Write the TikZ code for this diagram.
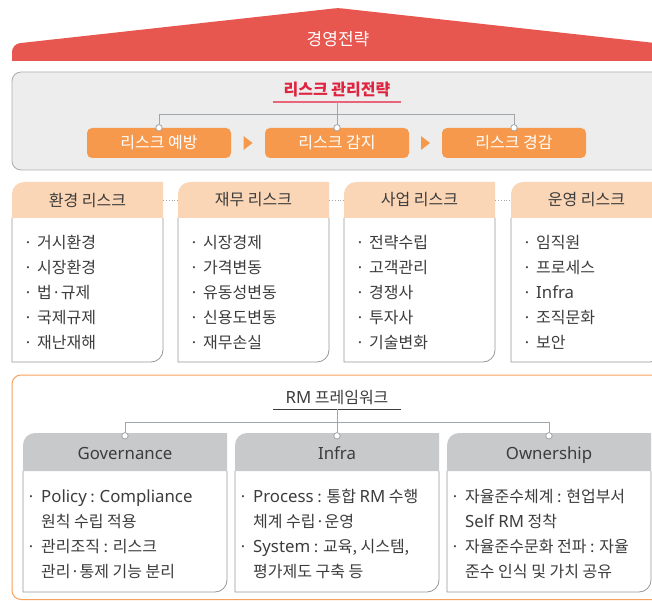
\documentclass[tikz,border=0pt]{standalone}
\usepackage{fontspec}
\setmainfont{Noto Sans CJK KR}
\newfontfamily\latinfont[Scale=1.05]{Noto Sans}
\newcommand{\en}[1]{{\latinfont #1}}
\usepackage{xcolor}
\definecolor{textcolor}{RGB}{60,60,60}
\definecolor{roofcolor}{RGB}{232,86,80}
\definecolor{panelcolor}{RGB}{237,237,237}
\definecolor{panelrule}{RGB}{168,172,175}
\definecolor{stepcolor}{RGB}{246,153,76}
\definecolor{stratcolor}{RGB}{222,36,62}
\definecolor{stratrule}{RGB}{232,100,120}
\definecolor{peachcolor}{RGB}{251,214,182}
\definecolor{boxrule}{RGB}{150,150,150}
\definecolor{linkrule}{RGB}{160,166,170}
\definecolor{headgray}{RGB}{199,201,203}
\definecolor{framecolor}{RGB}{246,160,90}
\usepackage{tikz}
\usetikzlibrary{calc}

\begin{document}
\begin{tikzpicture}[x=1pt, y=-1pt,
  every node/.style={text=textcolor, inner sep=0pt, font=\fontsize{16}{19}\selectfont},
  stepbox/.style={fill=stepcolor, rounded corners=5pt, minimum width=144pt, minimum height=30pt, text=white},
  riskhead/.style={minimum width=151pt, minimum height=36pt},
  rmhead/.style={minimum width=204pt, minimum height=38pt, text height=12pt, text depth=4pt},
  item/.style={anchor=west, text height=12pt, text depth=0pt},
  bul/.style={text height=12pt, text depth=0pt},
  link/.style={draw=linkrule, line width=1pt},
  knot/.style={draw=linkrule, fill=white, line width=0.8pt},
  bodyrule/.style={draw=boxrule, line width=0.8pt}]
\useasboundingbox (0,0) rectangle (652,601);
\begin{scope}
\clip (0,0) rectangle (652,601);

% roof
\fill[roofcolor] (12,61) [rounded corners=8pt] -- (12,44) [rounded corners=3pt] -- (338,8) [sharp corners] -- (664,44) -- (664,61) -- cycle;
\node[text=white, font=\fontsize{17}{20}\selectfont] (mgmt) at (338,39) {경영전략};

% risk management strategy
\draw[draw=panelrule, fill=panelcolor, rounded corners=9pt, line width=0.8pt] (12,72) rectangle (680,170);
\node[text=stratcolor, font=\bfseries\fontsize{16}{19}\selectfont, minimum width=128pt, minimum height=24pt] (strat) at (337,90) {리스크 관리전략};
\draw[stratrule, line width=1.6pt] (strat.south west) -- (strat.south east);
\node[stepbox] (prevent) at (159,143) {리스크 예방};
\node[stepbox] (detect) at (337,143) {리스크 감지};
\node[stepbox] (reduce) at (514,143) {리스크 경감};
\draw[link] (strat.south) -- (detect.north);
\draw[link] (prevent.north) |- ($(strat.south)+(0,12)$) -| (reduce.north);
\foreach \n in {prevent,detect,reduce}
  \draw[knot] (\n.north) circle (3.2pt);
\foreach \a/\b in {prevent/detect,detect/reduce}
  \fill[stepcolor] ($(\a.east)!0.5!(\b.west)+(-4.5,-7)$) -- ++(9,7) -- ++(-9,7) -- cycle;

% risk boxes
\foreach \x/\nm/\hd/\items in {12/env/환경 리스크/{거시환경,시장환경,법·규제,국제규제,재난재해},
    178/fin/재무 리스크/{시장경제,가격변동,유동성변동,신용도변동,재무손실},
    344/biz/사업 리스크/{전략수립,고객관리,경쟁사,투자사,기술변화},
    511/ops/운영 리스크/{임직원,프로세스,\en{Infra},조직문화,보안}} {
  \fill[peachcolor] (\x,218) [rounded corners=12pt] -- (\x,182) [sharp corners] -- (\x+151,182) -- (\x+151,218) -- cycle;
  \draw[bodyrule] (\x,218) -- (\x,362) [rounded corners=12pt] -- (\x+151,362) [sharp corners] -- (\x+151,218);
  \node[riskhead] (\nm) at (\x+75.5,200) {\hd};
  \foreach \entry [count=\i] in \items {
    \node[bul] (\nm-b\i) at (\x+16,217+25*\i) {·};
    \node[item] (\nm-\i) at (\x+25,217+25*\i) {\entry};
  }
}
\draw[linkrule, dotted, line width=0.8pt] (env.east) -- (fin.west);
\draw[linkrule, dotted, line width=0.8pt] (fin.east) -- (biz.west);
\draw[linkrule, dotted, line width=0.8pt] (biz.east) -- (ops.west);

% RM framework
\draw[framecolor, line width=1pt, rounded corners=9pt] (12,375) rectangle (680,599.5);
\node[minimum width=128pt, minimum height=22pt] (rmfw) at (337,398) {\en{RM} 프레임워크};
\draw[textcolor, line width=0.8pt] (rmfw.south west) -- (rmfw.south east);
\foreach \x/\nm/\hd in {23/gov/Governance, 235/inf/Infra, 447/own/Ownership} {
  \fill[headgray] (\x,471) [rounded corners=12pt] -- (\x,433) [sharp corners] -- (\x+204,433) -- (\x+204,471) -- cycle;
  \draw[bodyrule] (\x,471) -- (\x,592) [rounded corners=12pt] -- (\x+204,592) [sharp corners] -- (\x+204,471);
  \node[rmhead] (\nm) at (\x+102,455) {\en{\hd}};
}
\draw[link] (rmfw.south) -- (inf.north);
\draw[link] (gov.north) |- ($(rmfw.south)+(0,13)$) -| (own.north);
\foreach \n in {gov,inf,own}
  \draw[knot] (\n.north) circle (3.2pt);
\foreach \x/\nm/\la/\lb/\lc/\ld in {23/gov/{\en{Policy} : \en{Compliance}}/원칙 수립 적용/관리조직 : 리스크/관리·통제 기능 분리,
    235/inf/{\en{Process} : 통합 \en{RM} 수행}/체계 수립·운영/{\en{System} : 교육, 시스템,}/평가제도 구축 등,
    447/own/자율준수체계 : 현업부서/{\en{Self RM} 정착}/자율준수문화 전파 : 자율/준수 인식 및 가치 공유} {
  \node[bul] (\nm-b1) at (\x+8,496) {·};
  \node[item] (\nm-1) at (\x+18,496) {\la};
  \node[item] (\nm-2) at (\x+18,521) {\lb};
  \node[bul] (\nm-b3) at (\x+8,546) {·};
  \node[item] (\nm-3) at (\x+18,546) {\lc};
  \node[item] (\nm-4) at (\x+18,571) {\ld};
}
\end{scope}
\end{tikzpicture}
\end{document}
